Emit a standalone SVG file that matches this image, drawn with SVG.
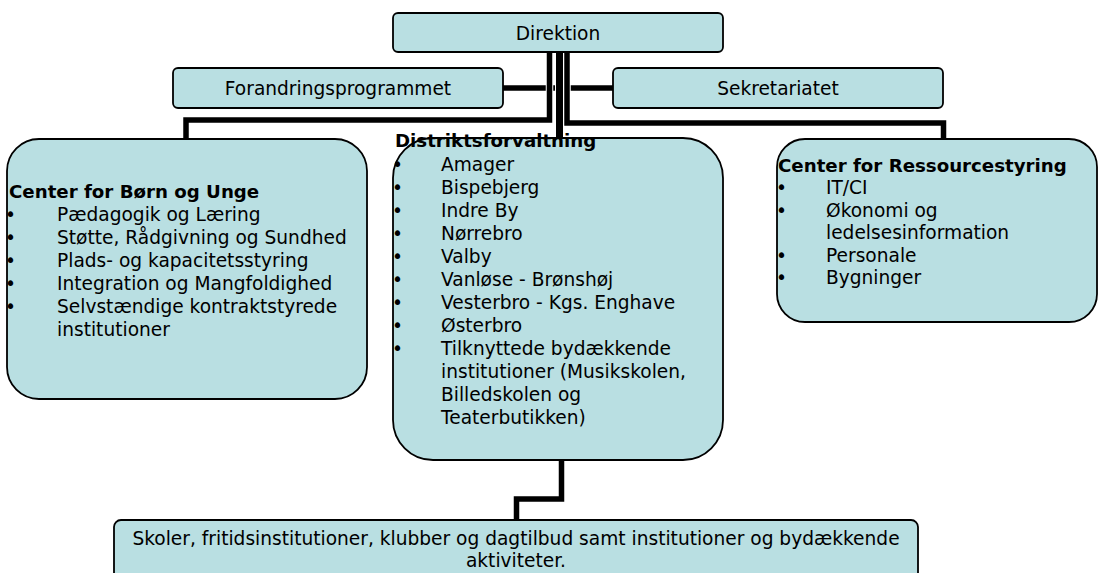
<svg xmlns="http://www.w3.org/2000/svg" width="1099" height="573" viewBox="0 0 1099 573">
<style>
.box{fill:#b9dfe2;stroke:#000;stroke-width:1.8}
.t{font-family:"DejaVu Sans","Liberation Sans",sans-serif;font-size:18.6px;fill:#000}
.c{text-anchor:middle}
.b{font-weight:bold;font-size:18.2px}
.lnw{fill:none;stroke:#fff;stroke-width:7.5}
.ln{fill:none;stroke:#000;stroke-width:5.5}
</style>
<rect width="1099" height="573" fill="#fff"/>
<g id="connectors">
<path class="lnw" d="M503 88H613"/>
<path class="ln" d="M503 88H613"/>
<path class="lnw" d="M549.5 52V120H186V139"/>
<path class="ln" d="M549.5 52V120H186V139"/>
<path class="lnw" d="M567 52V123H943.5V140"/>
<path class="ln" d="M567 52V123H943.5V140"/>
<path class="lnw" d="M559.5 52V138" style="stroke-width:9"/>
<path class="ln" d="M559.5 52V138" style="stroke-width:7"/>
<path class="ln" d="M561.5 460V499H516.5V520"/>
</g>
<g id="direktion">
<rect class="box" x="393" y="13" width="330" height="39" rx="5"/>
<text class="t c" x="558" y="40">Direktion</text>
</g>
<g id="forandringsprogrammet">
<rect class="box" x="173" y="68" width="330" height="40" rx="5"/>
<text class="t c" x="338" y="95">Forandringsprogrammet</text>
</g>
<g id="sekretariatet">
<rect class="box" x="613" y="68" width="330" height="40" rx="5"/>
<text class="t c" x="778" y="95">Sekretariatet</text>
</g>
<g id="boern-unge">
<rect class="box" x="7" y="139" width="360" height="260" rx="32"/>
<text class="t b" x="9" y="198">Center for Børn og Unge</text>
<text class="t" x="5" y="221">•</text><text class="t" x="57" y="221">Pædagogik og Læring</text>
<text class="t" x="5" y="244">•</text><text class="t" x="57" y="244">Støtte, Rådgivning og Sundhed</text>
<text class="t" x="5" y="267">•</text><text class="t" x="57" y="267">Plads- og kapacitetsstyring</text>
<text class="t" x="5" y="290">•</text><text class="t" x="57" y="290">Integration og Mangfoldighed</text>
<text class="t" x="5" y="313">•</text><text class="t" x="57" y="313">Selvstændige kontraktstyrede</text>
<text class="t" x="57" y="336">institutioner</text>
</g>
<g id="distriktsforvaltning">
<rect class="box" x="393" y="138" width="330" height="322" rx="40"/>
<text class="t b" x="395" y="147">Distriktsforvaltning</text>
<text class="t" x="392" y="170.5">•</text><text class="t" x="441" y="170.5">Amager</text>
<text class="t" x="392" y="193.5">•</text><text class="t" x="441" y="193.5">Bispebjerg</text>
<text class="t" x="392" y="216.5">•</text><text class="t" x="441" y="216.5">Indre By</text>
<text class="t" x="392" y="239.5">•</text><text class="t" x="441" y="239.5">Nørrebro</text>
<text class="t" x="392" y="262.5">•</text><text class="t" x="441" y="262.5">Valby</text>
<text class="t" x="392" y="285.5">•</text><text class="t" x="441" y="285.5">Vanløse - Brønshøj</text>
<text class="t" x="392" y="308.5">•</text><text class="t" x="441" y="308.5">Vesterbro - Kgs. Enghave</text>
<text class="t" x="392" y="331.5">•</text><text class="t" x="441" y="331.5">Østerbro</text>
<text class="t" x="392" y="354.5">•</text><text class="t" x="441" y="354.5">Tilknyttede bydækkende</text>
<text class="t" x="441" y="377.5">institutioner (Musikskolen,</text>
<text class="t" x="441" y="400.5">Billedskolen og</text>
<text class="t" x="441" y="423.5">Teaterbutikken)</text>
</g>
<g id="ressourcestyring">
<rect class="box" x="777" y="139" width="320" height="183" rx="28"/>
<text class="t b" x="778" y="172">Center for Ressourcestyring</text>
<text class="t" x="776" y="194">•</text><text class="t" x="826" y="194">IT/CI</text>
<text class="t" x="776" y="216.5">•</text><text class="t" x="826" y="216.5">Økonomi og</text>
<text class="t" x="826" y="239">ledelsesinformation</text>
<text class="t" x="776" y="261.5">•</text><text class="t" x="826" y="261.5">Personale</text>
<text class="t" x="776" y="284">•</text><text class="t" x="826" y="284">Bygninger</text>
</g>
<g id="skoler">
<rect class="box" x="114" y="520" width="804" height="62" rx="7"/>
<text class="t c" x="516" y="545">Skoler, fritidsinstitutioner, klubber og dagtilbud samt institutioner og bydækkende</text>
<text class="t c" x="516" y="567">aktiviteter.</text>
</g>
</svg>
